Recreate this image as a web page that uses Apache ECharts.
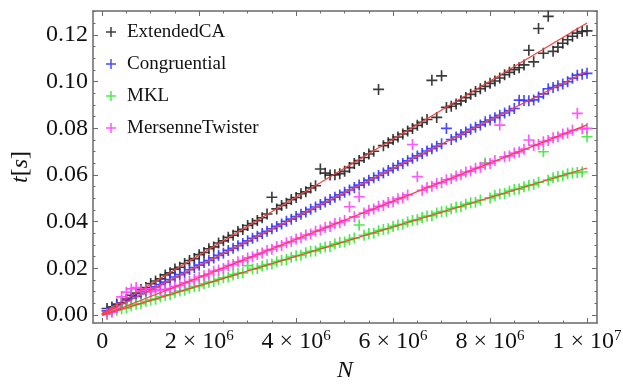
<!DOCTYPE html>
<html>
<head>
<meta charset="utf-8">
<title>t vs N</title>
<script src="https://cdn.jsdelivr.net/npm/echarts@6/dist/echarts.min.js"></script>
<style>
  html, body { margin: 0; padding: 0; background: #fff; }
  #chart { width: 623px; height: 384px; }
</style>
</head>
<body>
<div id="chart"></div>
<script>
// N in millions
const nMillions = [
  0.1, 0.2, 0.3, 0.4, 0.5, 0.6, 0.7, 0.8, 0.9, 1.0,
  1.1, 1.2, 1.3, 1.4, 1.5, 1.6, 1.7, 1.8, 1.9, 2.0,
  2.1, 2.2, 2.3, 2.4, 2.5, 2.6, 2.7, 2.8, 2.9, 3.0,
  3.1, 3.2, 3.3, 3.4, 3.5, 3.6, 3.7, 3.8, 3.9, 4.0,
  4.1, 4.2, 4.3, 4.4, 4.5, 4.6, 4.7, 4.8, 4.9, 5.0,
  5.1, 5.2, 5.3, 5.4, 5.5, 5.6, 5.7, 5.8, 5.9, 6.0,
  6.1, 6.2, 6.3, 6.4, 6.5, 6.6, 6.7, 6.8, 6.9, 7.0,
  7.1, 7.2, 7.3, 7.4, 7.5, 7.6, 7.7, 7.8, 7.9, 8.0,
  8.1, 8.2, 8.3, 8.4, 8.5, 8.6, 8.7, 8.8, 8.9, 9.0,
  9.1, 9.2, 9.3, 9.4, 9.5, 9.6, 9.7, 9.8, 9.9, 10.0
];

const seriesNames = ['ExtendedCA', 'Congruential', 'MKL', 'MersenneTwister'];
const seriesColors = ['#262626', '#3535ff', '#3ce83c', '#ff45ff'];

// t[s]
const extendedCA = [
  0.0028, 0.0035, 0.0047, 0.0052, 0.0068, 0.0085, 0.0094, 0.0110, 0.0118, 0.0135,
  0.0146, 0.0155, 0.0172, 0.0181, 0.0197, 0.0205, 0.0221, 0.0234, 0.0242, 0.0259,
  0.0268, 0.0284, 0.0292, 0.0309, 0.0318, 0.0333, 0.0342, 0.0358, 0.0367, 0.0384,
  0.0392, 0.0405, 0.0417, 0.0433, 0.0505, 0.0455, 0.0470, 0.0479, 0.0495, 0.0504,
  0.0520, 0.0528, 0.0545, 0.0554, 0.0626, 0.0608, 0.0600, 0.0601, 0.0606, 0.0616,
  0.0632, 0.0650, 0.0662, 0.0675, 0.0690, 0.0702, 0.0967, 0.0726, 0.0738, 0.0752,
  0.0763, 0.0776, 0.0789, 0.0800, 0.0813, 0.0826, 0.0838, 0.1006, 0.0847, 0.1025,
  0.0890, 0.0895, 0.0905, 0.0918, 0.0932, 0.0946, 0.0958, 0.0970, 0.0980, 0.0993,
  0.1003, 0.1016, 0.1030, 0.1040, 0.1052, 0.1060, 0.1072, 0.1135, 0.1085, 0.1228,
  0.1122, 0.1280, 0.1130, 0.1148, 0.1165, 0.1180, 0.1195, 0.1208, 0.1215, 0.1218
];
const congruential = [
  0.0018, 0.0028, 0.0040, 0.0050, 0.0062, 0.0072, 0.0080, 0.0092, 0.0100, 0.0110,
  0.0121, 0.0131, 0.0141, 0.0152, 0.0163, 0.0173, 0.0182, 0.0194, 0.0203, 0.0214,
  0.0225, 0.0234, 0.0245, 0.0256, 0.0265, 0.0277, 0.0286, 0.0297, 0.0307, 0.0318,
  0.0329, 0.0338, 0.0350, 0.0359, 0.0370, 0.0380, 0.0390, 0.0402, 0.0411, 0.0422,
  0.0432, 0.0442, 0.0453, 0.0463, 0.0474, 0.0484, 0.0495, 0.0505, 0.0515, 0.0526,
  0.0536, 0.0547, 0.0557, 0.0567, 0.0578, 0.0588, 0.0598, 0.0609, 0.0619, 0.0630,
  0.0641, 0.0650, 0.0661, 0.0672, 0.0682, 0.0692, 0.0703, 0.0713, 0.0723, 0.0734,
  0.0800, 0.0752, 0.0763, 0.0774, 0.0784, 0.0796, 0.0805, 0.0815, 0.0828, 0.0836,
  0.0846, 0.0856, 0.0866, 0.0876, 0.0885, 0.0921, 0.0920, 0.0918, 0.0922, 0.0935,
  0.0948, 0.0970, 0.0975, 0.0983, 0.0990, 0.1000, 0.1015, 0.1028, 0.1032, 0.1036
];
const mkl = [
  0.0004, 0.0015, 0.0021, 0.0027, 0.0030, 0.0040, 0.0046, 0.0049, 0.0059, 0.0065,
  0.0068, 0.0078, 0.0084, 0.0087, 0.0097, 0.0103, 0.0106, 0.0115, 0.0122, 0.0125,
  0.0134, 0.0141, 0.0144, 0.0153, 0.0160, 0.0163, 0.0172, 0.0178, 0.0181, 0.0212,
  0.0197, 0.0200, 0.0210, 0.0216, 0.0219, 0.0229, 0.0235, 0.0238, 0.0248, 0.0254,
  0.0256, 0.0267, 0.0273, 0.0275, 0.0286, 0.0292, 0.0294, 0.0304, 0.0311, 0.0313,
  0.0323, 0.0330, 0.0386, 0.0342, 0.0349, 0.0351, 0.0361, 0.0367, 0.0370, 0.0380,
  0.0386, 0.0389, 0.0399, 0.0405, 0.0408, 0.0418, 0.0424, 0.0426, 0.0437, 0.0443,
  0.0445, 0.0456, 0.0462, 0.0464, 0.0475, 0.0481, 0.0483, 0.0493, 0.0652, 0.0502,
  0.0512, 0.0519, 0.0521, 0.0531, 0.0538, 0.0540, 0.0550, 0.0556, 0.0559, 0.0569,
  0.0700, 0.0578, 0.0588, 0.0594, 0.0597, 0.0606, 0.0609, 0.0611, 0.0613, 0.0764
];
const mersenneTwister = [
  0.0005, 0.0012, 0.0030, 0.0078, 0.0098, 0.0112, 0.0118, 0.0105, 0.0112, 0.0100,
  0.0106, 0.0110, 0.0108, 0.0114, 0.0122, 0.0127, 0.0138, 0.0144, 0.0152, 0.0163,
  0.0168, 0.0176, 0.0188, 0.0193, 0.0200, 0.0212, 0.0217, 0.0228, 0.0233, 0.0245,
  0.0250, 0.0260, 0.0266, 0.0277, 0.0282, 0.0294, 0.0298, 0.0310, 0.0315, 0.0326,
  0.0331, 0.0343, 0.0347, 0.0359, 0.0364, 0.0375, 0.0380, 0.0392, 0.0396, 0.0405,
  0.0464, 0.0421, 0.0507, 0.0437, 0.0449, 0.0454, 0.0466, 0.0470, 0.0482, 0.0486,
  0.0498, 0.0503, 0.0515, 0.0731, 0.0593, 0.0535, 0.0547, 0.0552, 0.0564, 0.0568,
  0.0580, 0.0584, 0.0596, 0.0601, 0.0613, 0.0617, 0.0629, 0.0633, 0.0645, 0.0650,
  0.0662, 0.0814, 0.0678, 0.0682, 0.0694, 0.0699, 0.0711, 0.0750, 0.0727, 0.0731,
  0.0743, 0.0748, 0.0760, 0.0764, 0.0776, 0.0780, 0.0792, 0.0864, 0.0798, 0.0800
];

// fitted lines (red): t at N = 0 and at N = 1e7
const fitAtZero = [0.0008, 0.0004, 0.0000, -0.0002];
const fitAtMax = [0.1252, 0.1045, 0.0630, 0.0815];

const xMajorTicks = [0, 2e6, 4e6, 6e6, 8e6, 1e7];
const yMajorTicks = [0, 0.02, 0.04, 0.06, 0.08, 0.10, 0.12];

const X_MIN = -1.9e5, X_MAX = 1.0206e7;
const Y_MIN = -0.0034, Y_MAX = 0.1303;
const SERIF = '"Liberation Serif", "DejaVu Serif", serif';
const FRAME = '#6a6a6a';

// minor ticks every 0.5e6 / 0.005
const xMinorTicks = [];
for (let i = 1; i <= 20; i++) if (i % 4 !== 0) xMinorTicks.push(i * 5e5);
const yMinorTicks = [];
for (let i = 1; i <= 26; i++) if (i % 4 !== 0) yMinorTicks.push(+(i * 0.005).toFixed(3));

const plusIcon = 'path://M0,4.25H10V5.75H0Z M4.25,0H5.75V10H4.25Z';
const allSeries = [extendedCA, congruential, mkl, mersenneTwister];

function xLabel(v) {
    if (v === 0) return '{b|0}';
    if (v === 1e7) return '{b|1 × 10}{sup|7}';
    return '{b|' + Math.round(v / 1e6) + ' × 10}{sup|6}';
}

// one side of the frame
function frameAxis(kind, pos, gridIndex, ticks, tickLen, withLabels) {
    const ax = {
        type: 'value',
        gridIndex: gridIndex,
        position: pos,
        min: kind === 'x' ? X_MIN : Y_MIN,
        max: kind === 'x' ? X_MAX : Y_MAX,
        splitLine: { show: false },
        axisLine: { show: gridIndex === 0, onZero: false, lineStyle: { color: FRAME, width: 1.5 } },
        axisTick: { show: true, inside: true, length: tickLen, customValues: ticks,
                    lineStyle: { color: FRAME, width: 1 } },
        axisLabel: { show: false }
    };
    if (withLabels) {
        ax.axisLabel = {
            show: true,
            customValues: ticks,
            fontFamily: SERIF,
            fontSize: 24,
            color: '#111'
        };
        if (kind === 'x') {
            ax.axisLabel.margin = 6;
            ax.axisLabel.formatter = xLabel;
            ax.axisLabel.rich = {
                b: { fontFamily: SERIF, fontSize: 24, color: '#111', lineHeight: 26 },
                sup: { fontFamily: SERIF, fontSize: 15, color: '#111', lineHeight: 14, verticalAlign: 'top' }
            };
            ax.name = 'N';
            ax.nameLocation = 'middle';
            ax.nameGap = 36;
            ax.nameTextStyle = { fontFamily: SERIF, fontSize: 24, fontStyle: 'italic', color: '#111' };
        } else {
            ax.axisLabel.margin = 5;
            ax.axisLabel.formatter = v => v.toFixed(2);
            ax.name = '{i|t}{n|[}{i|s}{n|]}';
            ax.nameLocation = 'middle';
            ax.nameGap = 60;
            ax.nameRotate = 90;
            ax.nameTextStyle = {
                rich: {
                    i: { fontFamily: SERIF, fontSize: 24, fontStyle: 'italic', color: '#111' },
                    n: { fontFamily: SERIF, fontSize: 24, color: '#111' }
                }
            };
        }
    }
    return ax;
}

// fixed plot frame; do not let the labels shrink it
const gridRect = { left: 93, top: 11, width: 504, height: 312, outerBoundsMode: 'none', containLabel: false };

const chart = echarts.init(document.getElementById('chart'));

const series = [];
seriesNames.forEach((name, s) => {
    series.push({
        name: name,
        type: 'scatter',
        xAxisIndex: 0,
        yAxisIndex: 0,
        symbol: plusIcon,
        symbolSize: 11,
        itemStyle: { color: seriesColors[s], opacity: 0.9 },
        data: nMillions.map((n, i) => [n * 1e6, allSeries[s][i]]),
        z: 2
    });
});
seriesNames.forEach((name, s) => {
    series.push({
        name: name + ' fit',
        type: 'line',
        xAxisIndex: 0,
        yAxisIndex: 0,
        symbol: 'none',
        lineStyle: { color: '#ff3b3b', width: 1.2 },
        data: [[0, fitAtZero[s]], [1e7, fitAtMax[s]]],
        silent: true,
        z: 3
    });
});

const option = {
    backgroundColor: '#fff',
    animation: false,
    grid: [Object.assign({}, gridRect), Object.assign({}, gridRect)],
    xAxis: [
        frameAxis('x', 'bottom', 0, xMajorTicks, 5, true),
        frameAxis('x', 'top', 0, xMajorTicks, 5, false),
        frameAxis('x', 'bottom', 1, xMinorTicks, 2.5, false),
        frameAxis('x', 'top', 1, xMinorTicks, 2.5, false)
    ],
    yAxis: [
        frameAxis('y', 'left', 0, yMajorTicks, 5, true),
        frameAxis('y', 'right', 0, yMajorTicks, 5, false),
        frameAxis('y', 'left', 1, yMinorTicks, 2.5, false),
        frameAxis('y', 'right', 1, yMinorTicks, 2.5, false)
    ],
    legend: {
        data: seriesNames,
        orient: 'vertical',
        left: 106,
        top: 22,
        padding: 0,
        itemWidth: 10,
        itemHeight: 10,
        itemGap: 12,
        textStyle: { fontFamily: SERIF, fontSize: 19, color: '#111', lineHeight: 20, padding: [0, 0, 0, 6] }
    },
    series: series
};

chart.setOption(option);
window.addEventListener('resize', () => chart.resize());
</script>
</body>
</html>
